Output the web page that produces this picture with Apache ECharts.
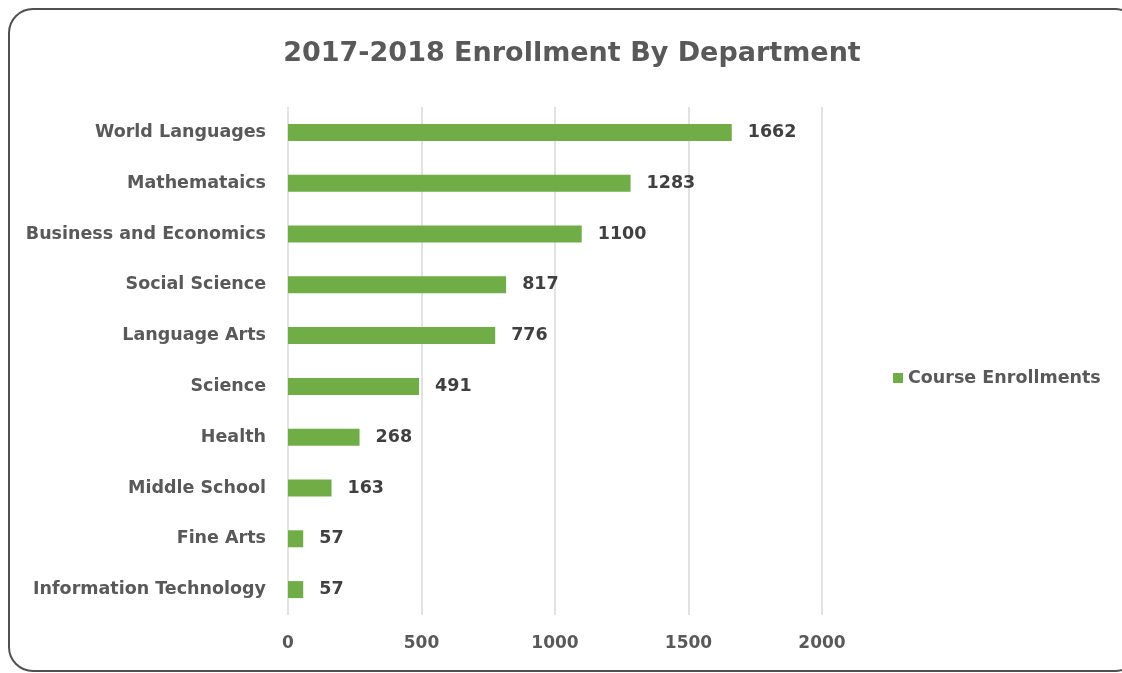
<!DOCTYPE html>
<html><head><meta charset="utf-8">
<script src="https://cdn.jsdelivr.net/npm/echarts@6/dist/echarts.min.js"></script>
<style>html,body{margin:0;padding:0;background:#fff}#c{width:1122px;height:673px}</style>
</head><body><div id="c"></div>
<script>
const categories = ["Information Technology","Fine Arts","Middle School","Health","Science","Language Arts","Social Science","Business and Economics","Mathemataics","World Languages"];
const enrollments = [57,57,163,268,491,776,817,1100,1283,1662];
const xTicks = [0,500,1000,1500,2000];
const seriesName = "Course Enrollments";
const chart = echarts.init(document.getElementById('c'));
const font = '"DejaVu Sans", sans-serif';
chart.setOption({
  animation:false,
  backgroundColor:'#fff',
  graphic:[{type:'rect',shape:{x:9,y:9,width:1130,height:662,r:24},style:{fill:'none',stroke:'#505050',lineWidth:2},silent:true}],
  title:{text:'2017-2018 Enrollment By Department',left:567,top:35,textAlign:'center',textStyle:{fontFamily:font,fontSize:27,fontWeight:'bold',color:'#595959'}},
  legend:{data:[seriesName],left:888,top:364,icon:'rect',itemWidth:10,itemHeight:10,itemGap:6,textStyle:{fontFamily:font,fontSize:17.5,fontWeight:'bold',color:'#595959'}},
  grid:{left:288,right:300,top:107,bottom:58,containLabel:false},
  xAxis:{type:'value',min:xTicks[0],max:xTicks[xTicks.length-1],interval:500,
    axisLine:{show:false},axisTick:{show:false},
    splitLine:{show:true,lineStyle:{color:'#d9d9d9',width:1.5}},
    axisLabel:{margin:20,fontFamily:font,fontSize:17,fontWeight:'bold',color:'#595959',formatter:v=>String(v)}},
  yAxis:{type:'category',data:categories,axisLine:{show:false},axisTick:{show:false},
    axisLabel:{margin:22,fontFamily:font,fontSize:17.5,fontWeight:'bold',color:'#595959'}},
  series:[{name:seriesName,type:'bar',data:enrollments,barWidth:17,itemStyle:{color:'#70AD47'},
    label:{show:true,position:'right',distance:16,fontFamily:font,fontSize:17.5,fontWeight:'bold',color:'#404040'}}]
});
</script></body></html>
